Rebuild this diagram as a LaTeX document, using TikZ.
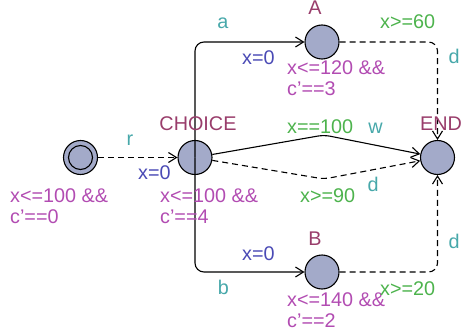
\documentclass[tikz,border=0pt]{standalone}
\usepackage{fontspec}
\setmainfont{Liberation Sans}
\usetikzlibrary{arrows.meta}
\definecolor{locfill}{HTML}{A3AAC9}
\definecolor{locname}{HTML}{993D6B}
\definecolor{invcol}{HTML}{B24CB2}
\definecolor{synccol}{HTML}{47A8AA}
\definecolor{assigncol}{HTML}{4A4AB5}
\definecolor{guardcol}{HTML}{4DB34D}
\tikzset{
  loc/.style={circle, draw=black, fill=locfill, line width=1.1pt, minimum size=34pt, inner sep=0pt},
  initin/.style={circle, draw=black, fill=locfill, line width=1.1pt, minimum size=24pt, inner sep=0pt},
  lbl/.style={font=\fontsize{19.8}{22}\selectfont, inner sep=0pt, anchor=base west},
  lblc/.style={font=\fontsize{19.8}{22}\selectfont, inner sep=0pt, anchor=base},
  edge/.style={line width=1.1pt, -{Straight Barb[length=8pt,width=10pt,line width=1.1pt]}},
  dedge/.style={edge, dash pattern=on 6pt off 4pt},
}
\begin{document}
\begin{tikzpicture}[x=1pt,y=-1pt]
\useasboundingbox (0,0) rectangle (468,334);
% locations
\node[loc] (init) at (80.5,157.5) {};
\node[initin] (initinner) at (init) {};
\node[loc] (choice) at (195,157.5) {};
\node[loc] (A) at (322,42) {};
\node[loc] (B) at (322,272) {};
\node[loc] (end) at (437.5,157.5) {};
\coordinate (wpeak) at (324,135);
\coordinate (dpeak) at (324,179);
% edges
\draw[dedge] (init) -- (choice);
\draw[edge, rounded corners=9pt] (choice.center) |- (A);
\draw[edge, rounded corners=9pt] (choice.center) |- (B);
\draw[dedge, rounded corners=9pt] (A) -| (end);
\draw[dedge, rounded corners=9pt] (B) -| (end);
\draw[edge, rounded corners=6pt] (choice) -- (wpeak) -- (end);
\draw[dedge, rounded corners=6pt] (choice) -- (dpeak) -- (end);
% location names
\node[lblc, text=locname] (nchoice) at (198,130) {CHOICE};
\node[lblc, text=locname] (nA) at (315,15) {A};
\node[lblc, text=locname] (nB) at (315,245) {B};
\node[lblc, text=locname] (nend) at (441,130) {END};
% invariants
\node[lbl, text=invcol] (i0a) at (10,202) {x<=100 \&\&};
\node[lbl, text=invcol] (i0b) at (10,223) {c’==0};
\node[lbl, text=invcol] (i1a) at (160,202) {x<=100 \&\&};
\node[lbl, text=invcol] (i1b) at (160,223) {c’==4};
\node[lbl, text=invcol] (iAa) at (287,75) {x<=120 \&\&};
\node[lbl, text=invcol] (iAb) at (287,96) {c’==3};
\node[lbl, text=invcol] (iBa) at (287,306) {x<=140 \&\&};
\node[lbl, text=invcol] (iBb) at (287,327) {c’==2};
% syncs
\node[lblc, text=synccol] (sr) at (130,145) {r};
\node[lblc, text=synccol] (sa) at (223,29) {a};
\node[lblc, text=synccol] (sb) at (223.5,294) {b};
\node[lblc, text=synccol] (sw) at (375.5,133) {w};
\node[lblc, text=synccol] (sd1) at (373,191) {d};
\node[lblc, text=synccol] (sd2) at (454,64) {d};
\node[lblc, text=synccol] (sd3) at (454,248) {d};
% assignments
\node[lbl, text=assigncol] (a0) at (138,179) {x=0};
\node[lbl, text=assigncol] (aA) at (242,65) {x=0};
\node[lbl, text=assigncol] (aB) at (242,260) {x=0};
% guards
\node[lbl, text=guardcol] (g1) at (287,133) {x==100};
\node[lbl, text=guardcol] (g2) at (300,202) {x>=90};
\node[lbl, text=guardcol] (g3) at (380,29) {x>=60};
\node[lbl, text=guardcol] (g4) at (380,295) {x>=20};
\end{tikzpicture}
\end{document}
